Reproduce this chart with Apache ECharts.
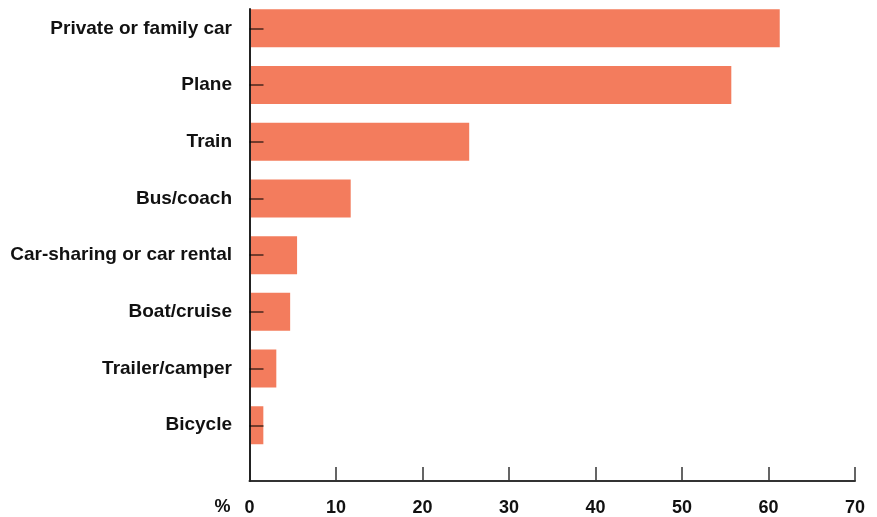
<!DOCTYPE html>
<html>
<head>
<meta charset="utf-8">
<script src="https://cdn.jsdelivr.net/npm/echarts@6/dist/echarts.min.js"></script>
<style>
html,body{margin:0;padding:0;background:#fff;}
#c{width:877px;height:517px;}
</style>
</head>
<body>
<div id="c"></div>
<script>
const categories = ["Private or family car","Plane","Train","Bus/coach","Car-sharing or car rental","Boat/cruise","Trailer/camper","Bicycle"];
const values = [61.3, 55.7, 25.4, 11.7, 5.5, 4.7, 3.1, 1.6];
const xTicks = [0, 10, 20, 30, 40, 50, 60, 70];

const FONT = "Liberation Sans";
const chart = echarts.init(document.getElementById('c'), null, {renderer: 'canvas'});
chart.setOption({
  animation: false,
  grid: [
    {left: 249.5, right: 22, top: 0, height: 453.6, containLabel: false},
    {left: 249.5, right: 22, top: 9, bottom: 36, containLabel: false}
  ],
  xAxis: [
    {gridIndex: 0, type: 'value', min: 0, max: 70, interval: 10, show: false},
    {gridIndex: 1, type: 'value', min: 0, max: 70, interval: 10,
      axisLine: {show: true, lineStyle: {color: '#333', width: 2}},
      axisTick: {show: true, inside: true, length: 14, lineStyle: {color: '#333', width: 1.5}},
      splitLine: {show: false},
      axisLabel: {show: true, margin: 18, color: '#111', fontFamily: FONT, fontWeight: 'bold', fontSize: 18,
        customValues: xTicks},
      name: '%', nameLocation: 'start', nameGap: 19,
      nameTextStyle: {color: '#111', fontFamily: FONT, fontWeight: 'bold', fontSize: 18, verticalAlign: 'top', padding: [17, 0, 0, 0]}
    }
  ],
  yAxis: [
    {gridIndex: 0, type: 'category', data: categories, inverse: true, z: 5,
      axisLine: {show: false},
      axisTick: {show: true, inside: true, alignWithLabel: true, length: 14, lineStyle: {color: 'rgba(0,0,0,0.7)', width: 1.5}},
      axisLabel: {margin: 17.5, color: '#111', fontFamily: FONT, fontWeight: 'bold', fontSize: 19}
    },
    {gridIndex: 1, type: 'value', min: 0, max: 1, z: 5,
      axisLine: {show: true, lineStyle: {color: '#222', width: 2}},
      axisTick: {show: false}, axisLabel: {show: false}, splitLine: {show: false}
    }
  ],
  series: [{
    type: 'bar', xAxisIndex: 0, yAxisIndex: 0,
    data: values, barWidth: 38,
    itemStyle: {color: '#f37c5d'}
  }]
});
</script>
</body>
</html>
